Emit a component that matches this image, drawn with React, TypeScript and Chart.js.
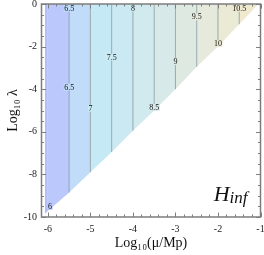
import React, { useEffect, useRef } from "react";
import { Chart, registerables } from "chart.js";

Chart.register(...registerables);

const xTicks = [-6, -5, -4, -3, -2, -1];
const yTicks = [0, -2, -4, -6, -8, -10];
const xTitle = "Log₁₀(μ/Mp)";
const yTitle = "Log₁₀ λ";

// lower (diagonal) boundary of the allowed region
const boundaryX = [-6.07, -6, -5.5, -5, -4.5, -4, -3.5, -3, -2.5, -2, -1.5, -1.05];
const boundaryY = [-9.85, -9.72, -8.85, -7.9, -6.95, -5.95, -5.0, -4.0, -2.95, -2.0, -0.95, 0];
const bandColors = [
  "#b2bdf9", "#bac8fc", "#c0dcf9", "#c6eaf5", "#cbe9f2", "#d1eaee",
  "#d7e9e9", "#dee9e2", "#e5eadc", "#eaead5", "#eee9cf",
];
const contourX = [-5.5, -5, -4.5, -4, -3.5, -3, -2.5, -2, -1.5];
const labelText = ["6", "6.5", "6.5", "7", "7.5", "8", "8.5", "9", "9.5", "10", "10.5"];
const labelX = [-5.95, -5.5, -5.5, -5, -4.5, -4, -3.5, -3, -2.5, -2, -1.5];
const labelY = [-9.5, -0.2, -3.9, -4.9, -2.5, -0.2, -4.85, -2.7, -0.6, -1.85, -0.2];

const SERIF = "'Liberation Serif', 'DejaVu Serif', serif";

const decor = {
  id: "decor",
  afterDatasetsDraw(chart: any) {
    const { ctx, chartArea: a, scales } = chart;
    const x = scales.x;
    const y = scales.y;
    ctx.save();
    // contour labels
    ctx.font = `8px ${SERIF}`;
    ctx.textAlign = "center";
    ctx.textBaseline = "middle";
    labelText.forEach((t, i) => {
      const px = x.getPixelForValue(labelX[i]);
      const py = y.getPixelForValue(labelY[i]);
      let bi = 0;
      for (let k = 0; k < boundaryX.length - 1; k++) if (labelX[i] >= boundaryX[k]) bi = k;
      const w = ctx.measureText(t).width;
      ctx.fillStyle = bandColors[bi];
      ctx.fillRect(px - w / 2 - 0.5, py - 3.5, w + 1, 7);
      ctx.fillStyle = "#111";
      ctx.fillText(t, px, py + 0.5);
    });

    // frame
    ctx.strokeStyle = "#7d7d7d";
    ctx.lineWidth = 1.5;
    ctx.strokeRect(a.left, a.top, a.right - a.left, a.bottom - a.top);

    // ticks
    ctx.lineWidth = 1;
    ctx.beginPath();
    const xmin = x.min, xmax = x.max;
    for (let k = -35; k <= -5; k++) {
      const v = k / 5;
      if (v < xmin - 1e-9 || v > xmax + 1e-9) continue;
      const major = Math.abs(v - Math.round(v)) < 1e-9;
      const len = major ? 4.5 : 2.5;
      const px = Math.round(x.getPixelForValue(v)) + 0.5;
      ctx.moveTo(px, a.bottom);
      ctx.lineTo(px, a.bottom - len);
      ctx.moveTo(px, a.top);
      ctx.lineTo(px, a.top + len);
    }
    for (let k = -20; k <= 0; k++) {
      const v = k / 2;
      const major = Math.abs(v / 2 - Math.round(v / 2)) < 1e-9;
      const len = major ? 4.5 : 2.5;
      const py = Math.round(y.getPixelForValue(v)) + 0.5;
      ctx.moveTo(a.left, py);
      ctx.lineTo(a.left + len, py);
      ctx.moveTo(a.right, py);
      ctx.lineTo(a.right - len, py);
    }
    ctx.stroke();

    // H_inf annotation
    ctx.fillStyle = "#111";
    ctx.textAlign = "left";
    ctx.textBaseline = "alphabetic";
    ctx.font = `italic 22px ${SERIF}`;
    const hW = ctx.measureText("H").width;
    ctx.font = `italic 17px ${SERIF}`;
    const iW = ctx.measureText("inf").width;
    const right = a.right - 13;
    const base = a.bottom - 16;
    const start = right - hW - iW;
    ctx.font = `italic 22px ${SERIF}`;
    ctx.fillText("H", start, base);
    ctx.font = `italic 17px ${SERIF}`;
    ctx.fillText("inf", start + hW, base + 2);
    ctx.restore();
  },
};

export default function App() {
  const ref = useRef<HTMLCanvasElement>(null);
  useEffect(() => {
    if (!ref.current) return;
    const datasets: any[] = [];
    for (let i = 0; i < boundaryX.length - 1; i++) {
      datasets.push({
        data: [
          { x: boundaryX[i], y: boundaryY[i] },
          { x: boundaryX[i + 1], y: boundaryY[i + 1] },
        ],
        borderWidth: 0,
        borderColor: "rgba(0,0,0,0)",
        backgroundColor: bandColors[i],
        fill: "end",
        pointRadius: 0,
        showLine: true,
        order: 3,
      });
    }
    contourX.forEach((cx) => {
      const idx = boundaryX.indexOf(cx);
      datasets.push({
        data: [
          { x: cx, y: boundaryY[idx] },
          { x: cx, y: 0 },
        ],
        borderWidth: 1,
        borderColor: "rgba(125,145,150,0.75)",
        fill: false,
        pointRadius: 0,
        showLine: true,
        order: 1,
      });
    });

    const chart = new Chart(ref.current, {
      type: "scatter",
      data: { datasets },
      options: {
        animation: false,
        responsive: false,
        events: [],
        layout: { padding: { top: 4, right: 3.5, left: 0, bottom: 0 } },
        plugins: { legend: { display: false }, tooltip: { enabled: false } },
        scales: {
          x: {
            type: "linear",
            min: -6.15,
            max: -1,
            afterBuildTicks: (s: any) => {
              s.ticks = xTicks.map((v) => ({ value: v }));
            },
            afterFit: (s: any) => {
              s.height = 38;
              s.paddingLeft = 0;
              s.paddingRight = 0;
            },
            grid: { display: false, drawTicks: false },
            border: { display: false },
            ticks: {
              font: { family: SERIF, size: 10 },
              color: "#222",
              padding: 6,
              maxRotation: 0,
              autoSkip: false,
              callback: (v: any) => String(v),
            },
            title: {
              display: true,
              text: xTitle,
              font: { family: SERIF, size: 14 },
              color: "#111",
              padding: { top: 0, bottom: 3.6 },
            },
          },
          y: {
            type: "linear",
            min: -10,
            max: 0,
            afterBuildTicks: (s: any) => {
              s.ticks = yTicks.map((v) => ({ value: v }));
            },
            afterFit: (s: any) => {
              s.width = 41.5;
              s.paddingTop = 0;
              s.paddingBottom = 0;
            },
            grid: { display: false, drawTicks: false },
            border: { display: false },
            ticks: {
              font: { family: SERIF, size: 10 },
              color: "#222",
              padding: 4.5,
              autoSkip: false,
              callback: (v: any) => String(v),
            },
            title: {
              display: true,
              text: yTitle,
              font: { family: SERIF, size: 14 },
              color: "#111",
              padding: { top: 4.6, bottom: 0 },
            },
          },
        },
      },
      plugins: [decor],
    });
    return () => chart.destroy();
  }, []);

  return (
    <div style={{ position: "fixed", left: 0, top: 0, width: 264, height: 255, background: "#fff" }}>
      <canvas ref={ref} width={264} height={255} style={{ width: 264, height: 255, display: "block" }} />
    </div>
  );
}
